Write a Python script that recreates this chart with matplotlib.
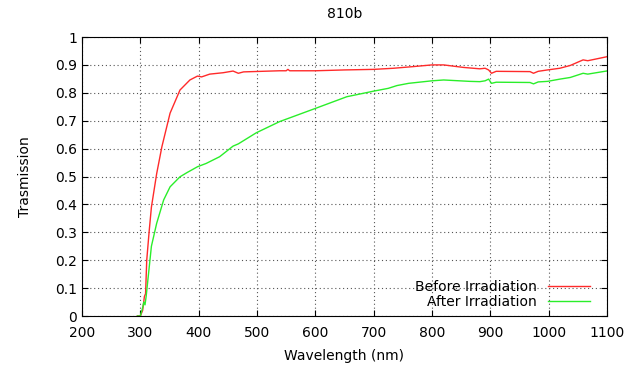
import matplotlib.pyplot as plt

# wavelength (nm) / transmission
wl_before = [295, 300, 304, 307, 309, 311, 315, 319, 328, 337, 351, 368, 385, 398,
             405, 419, 442, 459, 468, 477, 539, 550, 553, 556, 600, 650, 700, 734,
             768, 800, 820, 854, 882, 891, 897, 902, 910, 968, 974, 982, 998, 1019,
             1037, 1059, 1067, 1099]
t_before = [0.0, 0.0, 0.02, 0.07, 0.08, 0.2, 0.3, 0.39, 0.51, 0.607, 0.727, 0.81,
            0.846, 0.86, 0.857, 0.867, 0.872, 0.878, 0.87, 0.875, 0.879, 0.879,
            0.884, 0.879, 0.879, 0.882, 0.884, 0.888, 0.894, 0.9, 0.9, 0.891, 0.886,
            0.888, 0.882, 0.87, 0.877, 0.876, 0.87, 0.877, 0.882, 0.888, 0.898,
            0.918, 0.915, 0.929]

wl_after = [295, 300, 304, 306, 308, 310, 314, 319, 328, 340, 351, 368, 380, 398,
            413, 436, 459, 468, 499, 539, 600, 654, 700, 725, 740, 760, 800, 820, 865,
            882, 891, 897, 902, 910, 968, 974, 982, 998, 1019, 1037, 1059, 1067, 1099]
t_after = [0.0, 0.0, 0.03, 0.05, 0.04, 0.07, 0.15, 0.25, 0.332, 0.416, 0.463, 0.499,
           0.514, 0.535, 0.547, 0.571, 0.609, 0.617, 0.657, 0.697, 0.744, 0.786,
           0.806, 0.816, 0.826, 0.834, 0.843, 0.846, 0.841, 0.84, 0.843, 0.849, 0.834,
           0.838, 0.837, 0.832, 0.839, 0.841, 0.849, 0.855, 0.87, 0.867, 0.878]

x_ticks = list(range(200, 1101, 100))
y_ticks = [0, 0.1, 0.2, 0.3, 0.4, 0.5, 0.6, 0.7, 0.8, 0.9, 1]
y_labels = ['0', '0.1', '0.2', '0.3', '0.4', '0.5', '0.6', '0.7', '0.8', '0.9', '1']

fig = plt.figure(figsize=(6.42, 3.69), dpi=100)
ax = fig.add_axes([0.1277, 0.1436, 0.8178, 0.7561])

ax.plot(wl_before, t_before, color='#ff2a2a', lw=1.0, label='Before Irradiation')
ax.plot(wl_after, t_after, color='#2aee2a', lw=1.0, label='After Irradiation')

ax.set_xlim(200, 1100)
ax.set_ylim(0, 1)
ax.set_xticks(x_ticks)
ax.set_yticks(y_ticks)
ax.set_yticklabels(y_labels)
ax.tick_params(direction='in', top=True, right=True, length=4, labelsize=10)
ax.tick_params(axis='x', pad=7)
ax.grid(True, color='#555555', linestyle=(0, (1, 2.5)), lw=0.8)

ax.set_xlabel('Wavelength (nm)', fontsize=10, labelpad=7)
ax.set_ylabel('Trasmission', fontsize=10, labelpad=17)
ax.set_title('810b', fontsize=10, pad=14)

leg = ax.legend(loc='lower right', frameon=False, fontsize=10, markerfirst=False,
                handlelength=3.0, handletextpad=0.8, labelspacing=0.1,
                borderaxespad=0.1, bbox_to_anchor=(0.98, 0.0))
for t in leg.get_texts():
    t.set_ha('right')

fig.savefig('out.png', dpi=100)
